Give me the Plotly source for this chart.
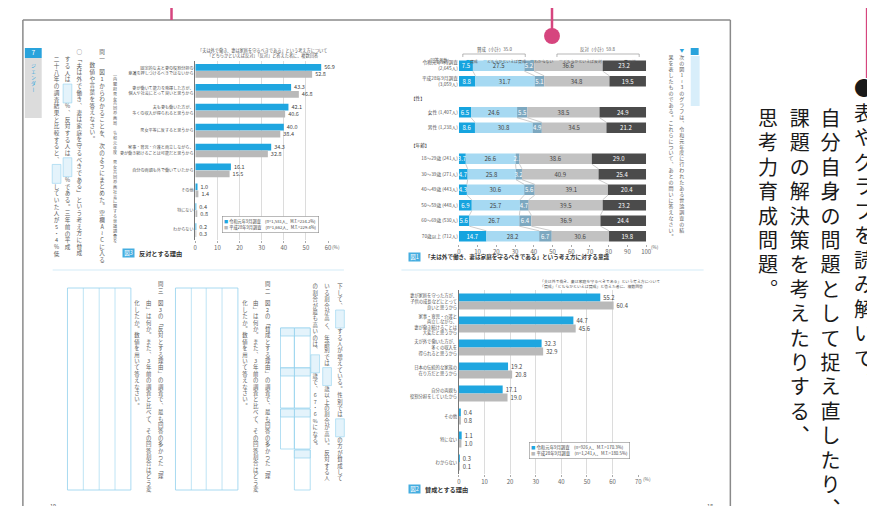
import plotly.graph_objects as go

W, H = 875, 506
FONT = "Noto Sans CJK JP"

# ---------------- data ----------------
# 図3 反対とする理由
oppose_reasons = [
    "固定的な夫と妻の役割分担の<br>意識を押しつけるべきではないから",
    "妻が働いて能力を発揮した方が、<br>個人や社会にとって良いと思うから",
    "夫も妻も働いた方が、<br>多くの収入が得られると思うから",
    "男女平等に反すると思うから",
    "家事・育児・介護と両立しながら、<br>妻が働き続けることは可能だと思うから",
    "自分の両親も外で働いていたから",
    "その他", "特にない", "わからない"]
oppose_r1 = [56.9, 43.3, 42.1, 40.0, 34.3, 16.1, 1.0, 0.4, 0.2]
oppose_h28 = [52.8, 46.8, 40.6, 38.4, 32.8, 15.5, 1.4, 0.8, 0.3]

# 図2 賛成とする理由
support_reasons = [
    "妻が家庭を守った方が、<br>子供の成長などにとって<br>良いと思うから",
    "家事・育児・介護と<br>両立しながら、<br>妻が働き続けることは<br>大変だと思うから",
    "夫が外で働いた方が、<br>多くの収入を<br>得られると思うから",
    "日本の伝統的な家族の<br>在り方だと思うから",
    "自分の両親も<br>役割分担をしていたから",
    "その他", "特にない", "わからない"]
support_r1 = [55.2, 44.7, 32.3, 19.2, 17.1, 0.4, 1.1, 0.3]
support_h28 = [60.4, 45.6, 32.9, 20.8, 19.0, 0.8, 1.0, 0.1]

survey_names = ["令和元年9月調査", "平成28年9月調査"]
oppose_n = ["(n=1,581人、M.T.=234.2%)", "(n=1,662人、M.T.=229.4%)"]
support_n = ["(n=926人、M.T.=170.3%)", "(n=1,241人、M.T.=180.5%)"]

# 図1 意識 (stacked)
att_groups = ["令和元年9月調査<br>(2,645人)", "平成28年9月調査<br>(3,059人)", "　",
              "女性 (1,407人)", "男性 (1,238人)", "　　",
              "18〜29歳 (241人)", "30〜39歳 (271人)", "40〜49歳 (443人)",
              "50〜59歳 (448人)", "60〜69歳 (530人)", "70歳以上 (712人)"]
att_headers = {"　": "【性】", "　　": "【年齢】"}
att_cats = ["賛成", "どちらかといえば賛成", "わからない", "どちらかといえば反対", "反対"]
att_agree = [7.5, 8.8, None, 6.5, 8.6, None, 3.7, 4.7, 4.3, 6.9, 5.6, 14.7]
att_lean_agree = [27.5, 31.7, None, 24.6, 30.8, None, 26.6, 25.8, 30.6, 25.7, 26.7, 28.2]
att_dk = [5.2, 5.1, None, 5.5, 4.9, None, 2.1, 3.2, 5.6, 4.7, 6.4, 6.7]
att_lean_oppose = [36.6, 34.8, None, 38.5, 34.5, None, 38.6, 40.9, 39.1, 39.5, 36.9, 30.6]
att_oppose = [23.2, 19.5, None, 24.9, 21.2, None, 29.0, 25.4, 20.4, 23.2, 24.4, 19.8]
agree_total = "35.0"
oppose_total = "59.8"

pct_ticks_60 = [0, 10, 20, 30, 40, 50, 60]
pct_ticks_70 = [0, 10, 20, 30, 40, 50, 60, 70]
pct_ticks_100 = [0, 10, 20, 30, 40, 50, 60, 70, 80, 90, 100]

# ---------------- styles ----------------
BLUE = "#1fa6e0"
GRAYB = "#b9b9b9"
SEG_COLORS = ["#16a4df", "#a6d9f2", "#7da8c0", "#c2c2c2", "#4b4b4b"]
SEG_TEXT = ["white", "#444", "white", "#444", "white"]
TXT = "#5a5a5a"
LBLUE = "#29a3dc"
BOXLINE = "#93d1ee"
BARGAP = 0.3


def fx(px):
    return px / W


def fy(py):
    return 1 - py / H


fig = go.Figure()
shapes = []
annotations = []


def line(x0, y0, x1, y1, color, width=1.0):
    shapes.append(dict(type="line", xref="x4", yref="y4", x0=x0, y0=y0, x1=x1, y1=y1,
                       line=dict(color=color, width=width)))


def rect(x0, y0, x1, y1, color=None, fill=None, width=0.8, layer="above"):
    shapes.append(dict(type="rect", xref="x4", yref="y4", x0=x0, y0=y0, x1=x1, y1=y1,
                       line=dict(color=color or "rgba(0,0,0,0)", width=width if color else 0),
                       fillcolor=fill or "rgba(0,0,0,0)", layer=layer))


def ann(x, y, text, size=5, color=TXT, xanchor="center", yanchor="middle", **kw):
    annotations.append(dict(x=x, y=y, xref="x4", yref="y4", text=text, showarrow=False,
                            xanchor=xanchor, yanchor=yanchor,
                            font=dict(family=FONT, size=size, color=color), **kw))


# ---------------- charts ----------------
# chart 1 (図3)
for nm, vals, col in [(survey_names[0], oppose_r1, BLUE), (survey_names[1], oppose_h28, GRAYB)]:
    fig.add_trace(go.Bar(y=oppose_reasons, x=vals, orientation="h", name=nm,
                         marker=dict(color=col, line=dict(width=0)),
                         text=[f"{v:.1f}" for v in vals], textposition="outside",
                         textfont=dict(size=5.4, color="#444", family=FONT),
                         cliponaxis=False, xaxis="x", yaxis="y", showlegend=False))

# chart 2 (図1) stacked with base
att_series = [att_agree, att_lean_agree, att_dk, att_lean_oppose, att_oppose]
base = [0.0 if v is not None else None for v in att_agree]
bounds = []
for cat, vals, col, tcol in zip(att_cats, att_series, SEG_COLORS, SEG_TEXT):
    fig.add_trace(go.Bar(y=att_groups, x=vals, base=list(base), orientation="h", name=cat,
                         marker=dict(color=col, line=dict(width=0)),
                         text=[f"{v:.1f}" if v is not None else "" for v in vals],
                         textposition="inside", insidetextanchor="middle", textangle=0,
                         textfont=dict(size=6, color=tcol, family=FONT),
                         offsetgroup="att", xaxis="x2", yaxis="y2", showlegend=False))
    base = [(b + v) if (b is not None and v is not None) else None for b, v in zip(base, vals)]
    bounds.append(list(base))

# connecting lines between consecutive rows (segment boundaries)
half = (1 - BARGAP) / 2
for bnd in bounds[:-1]:
    for i in range(len(att_groups) - 1):
        if bnd[i] is None or bnd[i + 1] is None:
            continue
        shapes.append(dict(type="line", xref="x2", yref="y2", x0=bnd[i], x1=bnd[i + 1],
                           y0=i + half, y1=i + 1 - half, line=dict(color="#9a9a9a", width=0.5)))

# chart 3 (図2)
for nm, vals, col in [(survey_names[0], support_r1, BLUE), (survey_names[1], support_h28, GRAYB)]:
    fig.add_trace(go.Bar(y=support_reasons, x=vals, orientation="h", name=nm,
                         marker=dict(color=col, line=dict(width=0)),
                         text=[f"{v:.1f}" for v in vals], textposition="outside",
                         textfont=dict(size=5.8, color="#444", family=FONT),
                         cliponaxis=False, xaxis="x3", yaxis="y3", showlegend=False))

# ---------------- vertical text on canvas ----------------
VMAP = {"、": "︑", "。": "︒", "「": "﹁", "」": "﹂", "（": "︵", "）": "︶",
        "ー": "丨", "〜": "≀", "(": "︵", ")": "︶"}
cx, cy, ct, cc, cs = [], [], [], [], []


def vtext(text, x, y0, pitch, size, color=TXT, cells=3):
    k = 0
    i = 0
    while i < len(text):
        ch = text[i]
        if ch == "[":
            j = text.index("]", i)
            lab = text[i + 1:j]
            top = y0 + (k - 0.5) * pitch + 0.6
            bot = top + cells * pitch - 1.2
            rect(x - 4.4, top, x + 4.4, bot, BOXLINE, "#e4f3fb", 0.6)
            cx.append(x); cy.append((top + bot) / 2); ct.append(lab); cc.append(LBLUE); cs.append(size)
            k += cells
            i = j + 1
            continue
        cx.append(x); cy.append(y0 + k * pitch); ct.append(VMAP.get(ch, ch)); cc.append(color); cs.append(size)
        k += 1
        i += 1


# page frame
line(13, 12, 727, 12, "#8a8a8a", 1.5)
line(13, 12, 13, 506, "#8a8a8a", 1.5)
line(727, 12, 727, 506, "#8a8a8a", 1.5)
# pink markers
line(163, 0, 163, 12, "#d6457e", 2.5)
line(547, 0, 547, 24, "#d6457e", 2.5)
shapes.append(dict(type="circle", xref="x4", yref="y4", x0=539, y0=20, x1=555, y1=36,
                   fillcolor="#d6457e", line=dict(width=0)))
line(865, 0, 865, 70, "#d6457e", 2.5)

# separators
line(43, 262, 337, 262, "#d3ecf7", 1.2)
line(395, 262, 700, 262, "#d3ecf7", 1.2)

# left tab
rect(15, 40, 32, 50, None, LBLUE, layer="below")
rect(15, 50, 32, 110, None, "#dcdcdc", layer="below")
cx.append(23.5); cy.append(45); ct.append("7"); cc.append("white"); cs.append(6.5)
vtext("ジェンダー", 23.5, 58, 6, 4.8, LBLUE)

# 問一 block
P = 6.7
S = 5.6
vtext("（内閣府男女共同参画局　令和元年度　男女共同参画社会に関する世論調査を", 106, 67, 4.9, 4.1)
vtext("問一　図1からわかることを、次のようにまとめた。空欄A〜Cに入る", 93, 45, P, S)
vtext("数値や言葉を答えなさい。", 83, 58, P, S)
vtext("○「夫は外で働き、妻は家庭を守るべきである」という考え方に賛成", 70, 45, P, S)
vtext("する人は[A]%、反対する人は[B]%である。三年前の平成", 58, 52, P, S)
vtext("二十八年の調査結果と比較すると、[C]していた人が5・4%低", 47, 52, P, S)

# lower left block
P2 = 6.4
S2 = 5.4
vtext("下して、[D]する人が増えている。性別では[E]の方が賛成して", 333, 279, P2, S2)
vtext("いる割合が高く、年齢別では[F]歳以上の割合が高い。反対する人", 320, 279, P2, S2)
vtext("の割合が最も高いのは、[G]歳で、67・6%になる。", 308, 279, P2, S2)
vtext("問二", 260, 277, P2, S2)
vtext("図2の「賛成とする理由」の調査で、最も回答の多かった「理", 260, 296, P2, S2)
vtext("由」は何か。また、3年前の調査と比べて、その回答割合はどう変", 248, 296, P2, S2)
vtext("化したか。数値を用いて答えなさい。", 237, 296, P2, S2)
vtext("問三", 152, 277, P2, S2)
vtext("図3の「反対とする理由」の調査で、最も回答の多かった「理", 152, 296, P2, S2)
vtext("由」は何か。また、3年前の調査と比べて、その回答割合はどう変", 140, 296, P2, S2)
vtext("化したか。数値を用いて答えなさい。", 128, 296, P2, S2)

# answer grids
for x0, x1, inner in [(58, 122, [74, 90, 106]), (167, 230, [183, 198, 214])]:
    rect(x0, 280, x1, 482, BOXLINE, None, 0.8)
    for xi in inner:
        line(xi, 280, xi, 482, BOXLINE, 0.6)
# A-G answer boxes
for col_x0, col_x1, labels, tops in [(287, 303, ["A", "B", "C", "D"], [320, 360, 401, 442]),
                                     (273, 287, ["E", "F", "G"], [320, 360, 401])]:
    for lab, t in zip(labels, tops):
        b = t + 40
        rect(col_x0, t, col_x1, b, BOXLINE, None, 0.7)
        rect(col_x0, t, col_x1, t + 8, BOXLINE, "#e4f3fb", 0.7)
        cx.append((col_x0 + col_x1) / 2); cy.append(t + 4); ct.append(lab); cc.append(LBLUE); cs.append(5.2)

# right page instructions
rect(687, 40, 695, 47, None, LBLUE)
rect(687, 48, 696, 98, None, "#d8eefa")
vtext("グラフを読み取る", 691.5, 52, 5.8, 4.6, LBLUE)
vtext("▼", 678, 43, 6, 4.6, LBLUE)
vtext("次の図1〜3のグラフは、令和元年度に行われたある世論調査の結", 678, 50, 5.95, 5.0)
vtext("果を表したものである。これらについて、あとの問いに答えなさい。", 667, 50, 5.95, 5.0)

# big margin text
vtext("●表やグラフを読み解いて、", 862, 83, 24.5, 20, "#1a1a1a")
vtext("自分自身の問題として捉え直したり、", 828, 113, 24.4, 20, "#1a1a1a")
vtext("課題の解決策を考えたりする、", 797, 113, 24.4, 20, "#1a1a1a")
vtext("思考力育成問題。", 765, 113, 24.4, 20, "#1a1a1a")

fig.add_trace(go.Scatter(x=cx, y=cy, text=ct, mode="text", xaxis="x4", yaxis="y4",
                         textfont=dict(family=FONT, size=cs, color=cc),
                         textposition="middle center", hoverinfo="skip",
                         showlegend=False, cliponaxis=False))

# ---------------- annotations ----------------
# chart 1 title, caption, legend
ann(255, 45, "「夫は外で働き、妻は家庭を守るべきである」という考え方について<br>"
    "「どちらかといえば反対」「反対」と答えた者に、複数回答", 4.2, "#555")
ann(113, 245, " 図3 ", 5.5, "white", xanchor="left", bgcolor="#45ade0", borderpad=0)
ann(128, 245, "<b>反対とする理由</b>", 6.2, "#333", xanchor="left")
ann(214, 216, f"<span style='color:{BLUE}'>■</span> {survey_names[0]}　{oppose_n[0]}<br>"
    f"<span style='color:{GRAYB}'>■</span> {survey_names[1]}　{oppose_n[1]}",
    4.2, "#444", xanchor="left", align="left", bordercolor="#8c8c8c", borderwidth=0.6,
    borderpad=1.5, bgcolor="white")
ann(323, 238, "(%)", 4.8, "#666", xanchor="left")

# chart 3
ann(533, 275, "「夫は外で働き、妻は家庭を守るべきである」という考え方について<br>"
    "「賛成」「どちらかといえば賛成」と答えた者に、複数回答", 3.9, "#555", xanchor="left", align="left")
ann(402, 481, " 図2 ", 5.5, "white", xanchor="left", bgcolor="#45ade0", borderpad=0)
ann(417, 481, "<b>賛成とする理由</b>", 6.2, "#333", xanchor="left")
ann(524, 442, f"<span style='color:{BLUE}'>■</span> {survey_names[0]}　{support_n[0]}<br>"
    f"<span style='color:{GRAYB}'>■</span> {survey_names[1]}　{support_n[1]}",
    4.4, "#444", xanchor="left", align="left", bordercolor="#8c8c8c", borderwidth=0.6,
    borderpad=1.5, bgcolor="white")
ann(637, 470, "(%)", 4.8, "#666", xanchor="left")

# chart 2 header, legend, brackets, caption
ann(433, 52, "(回答者数)", 4.3, "#555")
ann(489, 41.5, f"賛成（小計）{agree_total}", 4.4, "#555")
ann(593, 41.5, f"反対（小計）{oppose_total}", 4.4, "#555")
line(457, 49, 457, 46, "#888", 0.6); line(457, 46, 520, 46, "#888", 0.6); line(520, 46, 520, 49, "#888", 0.6)
line(552, 49, 552, 46, "#888", 0.6); line(552, 46, 635, 46, "#888", 0.6); line(635, 46, 635, 49, "#888", 0.6)
for lx, cat, col in zip([458, 475, 523, 552, 618], att_cats, SEG_COLORS):
    ann(lx, 52.5, f"<span style='color:{col}'>■</span>{cat}", 3.9, "#555", xanchor="left")
for key, lab in att_headers.items():
    annotations.append(dict(x=403, y=key, xref="x4", yref="y2", text=lab, showarrow=False,
                            xanchor="left", yanchor="middle", yshift=-2,
                            font=dict(family=FONT, size=4.6, color="#333")))
ann(645, 239, "(%)", 4.6, "#666", xanchor="left")
ann(402, 249, " 図1 ", 5.5, "white", xanchor="left", bgcolor="#45ade0", borderpad=0)
ann(417, 249, "<b>「夫は外で働き、妻は家庭を守るべきである」という考え方に対する意識</b>", 5.6, "#333",
    xanchor="left")

# page numbers
ann(43, 498, "19", 5.5, "#666")
ann(706, 498, "18", 5.5, "#666")

# ---------------- layout ----------------
tickfont = dict(family=FONT, size=6, color="#666")
catfont = dict(family=FONT, size=4.1, color="#555")

fig.update_layout(
    width=W, height=H, margin=dict(l=0, r=0, t=0, b=0),
    paper_bgcolor="white", plot_bgcolor="rgba(0,0,0,0)",
    barmode="group", bargap=BARGAP, bargroupgap=0.03,
    uniformtext=dict(minsize=5.5, mode="show"),
    font=dict(family=FONT),
    shapes=shapes, annotations=annotations,
    xaxis=dict(domain=[fx(187), fx(321)], range=[0, 60], anchor="y",
               tickvals=pct_ticks_60, ticktext=[str(t) for t in pct_ticks_60],
               showgrid=True, gridcolor="#dcdcdc", gridwidth=0.8, zeroline=False,
               ticks="outside", ticklen=2, tickcolor="#aaa", tickfont=tickfont, fixedrange=True),
    yaxis=dict(domain=[fy(232), fy(53)], anchor="x", type="category", autorange="reversed",
               showline=True, linecolor="#777", linewidth=0.8, ticks="", tickfont=catfont,
               showgrid=False, fixedrange=True),
    xaxis2=dict(domain=[fx(453), fx(642)], range=[0, 100], anchor="y2",
                tickvals=pct_ticks_100, ticktext=[str(t) for t in pct_ticks_100],
                showgrid=False, zeroline=False, ticks="outside", ticklen=2, tickcolor="#aaa",
                tickfont=tickfont, fixedrange=True),
    yaxis2=dict(domain=[fy(236), fy(50)], anchor="x2", type="category", autorange="reversed",
                showline=False, ticks="", tickfont=dict(family=FONT, size=4.7, color="#555"),
                showgrid=False, fixedrange=True),
    xaxis3=dict(domain=[fx(453), fx(634)], range=[0, 70], anchor="y3",
                tickvals=pct_ticks_70, ticktext=[str(t) for t in pct_ticks_70],
                showgrid=True, gridcolor="#dcdcdc", gridwidth=0.8, zeroline=False,
                ticks="outside", ticklen=2, tickcolor="#aaa", tickfont=tickfont, fixedrange=True),
    yaxis3=dict(domain=[fy(466), fy(282)], anchor="x3", type="category", autorange="reversed",
                showline=True, linecolor="#777", linewidth=0.8, ticks="",
                tickfont=dict(family=FONT, size=4.3, color="#555"),
                showgrid=False, fixedrange=True),
    xaxis4=dict(domain=[0, 1], range=[0, W], anchor="y4", visible=False, fixedrange=True),
    yaxis4=dict(domain=[0, 1], range=[H, 0], anchor="x4", visible=False, fixedrange=True),
)

fig.write_html("out.html")
